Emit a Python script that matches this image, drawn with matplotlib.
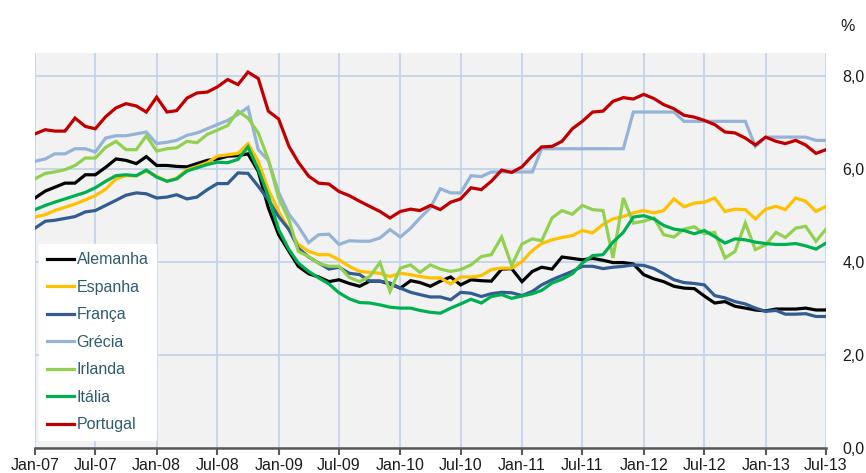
import numpy as np
import pandas as pd
import matplotlib
matplotlib.use("Agg")
import matplotlib.pyplot as plt

# monthly values, Jan-07 .. Jul-13 (%)
meses = pd.date_range("2007-01-01", periods=79, freq="MS")

alemanha = [5.38, 5.53, 5.61, 5.70, 5.70, 5.88, 5.88, 6.04, 6.22, 6.19,
            6.12, 6.27, 6.08, 6.08, 6.06, 6.05, 6.12, 6.19, 6.22, 6.28,
            6.29, 6.33, 5.95, 5.17, 4.59, 4.23, 3.91, 3.75, 3.68, 3.58,
            3.62, 3.54, 3.48, 3.59, 3.59, 3.53, 3.44, 3.60, 3.56, 3.48,
            3.59, 3.68, 3.51, 3.62, 3.60, 3.59, 3.85, 3.86, 3.58, 3.80,
            3.89, 3.85, 4.11, 4.08, 4.05, 4.08, 4.04, 3.99, 3.99, 3.96,
            3.73, 3.64, 3.58, 3.48, 3.44, 3.43, 3.27, 3.12, 3.15, 3.05,
            3.01, 2.97, 2.95, 2.99, 2.99, 2.99, 3.01, 2.97, 2.97]
espanha = [4.97, 5.02, 5.11, 5.18, 5.25, 5.34, 5.43, 5.57, 5.79, 5.86,
           5.86, 5.96, 5.85, 5.74, 5.81, 5.99, 6.06, 6.14, 6.28, 6.31,
           6.34, 6.55, 6.17, 5.56, 5.09, 4.70, 4.38, 4.23, 4.16, 4.16,
           4.05, 3.91, 3.80, 3.78, 3.76, 3.69, 3.76, 3.73, 3.69, 3.66,
           3.66, 3.53, 3.68, 3.68, 3.71, 3.84, 3.87, 3.87, 4.01, 4.25,
           4.40, 4.48, 4.53, 4.57, 4.68, 4.63, 4.81, 4.93, 4.98, 5.06,
           5.11, 5.06, 5.11, 5.36, 5.19, 5.27, 5.29, 5.38, 5.09, 5.14,
           5.13, 4.93, 5.14, 5.20, 5.13, 5.38, 5.31, 5.09, 5.20]
franca = [4.73, 4.88, 4.90, 4.94, 4.98, 5.08, 5.11, 5.22, 5.33, 5.44,
          5.49, 5.47, 5.38, 5.40, 5.45, 5.36, 5.40, 5.56, 5.69, 5.69,
          5.92, 5.91, 5.63, 5.34, 4.98, 4.70, 4.30, 4.11, 3.98, 3.85,
          3.89, 3.76, 3.73, 3.59, 3.59, 3.55, 3.44, 3.35, 3.30, 3.25,
          3.25, 3.19, 3.35, 3.33, 3.26, 3.32, 3.35, 3.34, 3.28, 3.37,
          3.51, 3.62, 3.71, 3.80, 3.91, 3.91, 3.86, 3.89, 3.91, 3.94,
          3.93, 3.86, 3.75, 3.62, 3.56, 3.54, 3.51, 3.28, 3.23, 3.15,
          3.10, 3.01, 2.94, 2.96, 2.88, 2.88, 2.89, 2.83, 2.83]
grecia = [6.17, 6.22, 6.33, 6.33, 6.44, 6.44, 6.37, 6.67, 6.72, 6.72,
          6.76, 6.80, 6.55, 6.58, 6.62, 6.73, 6.78, 6.87, 6.96, 7.05,
          7.18, 7.33, 6.42, 6.19, 5.50, 5.03, 4.77, 4.42, 4.59, 4.60,
          4.38, 4.46, 4.45, 4.45, 4.52, 4.70, 4.54, 4.73, 4.95, 5.17,
          5.58, 5.49, 5.49, 5.86, 5.84, 5.94, 5.94, 5.94, 5.94, 5.94,
          6.44, 6.44, 6.44, 6.44, 6.44, 6.44, 6.44, 6.44, 6.44, 7.23,
          7.23, 7.23, 7.23, 7.23, 7.03, 7.03, 7.03, 7.03, 7.03, 7.03,
          7.03, 6.49, 6.69, 6.69, 6.69, 6.69, 6.69, 6.62, 6.62]
irlanda = [5.79, 5.91, 5.94, 5.99, 6.08, 6.24, 6.24, 6.47, 6.60, 6.42,
           6.42, 6.72, 6.39, 6.44, 6.46, 6.60, 6.57, 6.75, 6.84, 6.94,
           7.25, 7.10, 6.78, 6.21, 5.38, 4.91, 4.23, 4.12, 3.97, 3.91,
           3.91, 3.67, 3.58, 3.69, 3.99, 3.37, 3.87, 3.94, 3.78, 3.94,
           3.85, 3.80, 3.84, 3.94, 4.12, 4.16, 4.54, 3.93, 4.39, 4.50,
           4.46, 4.95, 5.11, 5.03, 5.22, 5.13, 5.11, 4.09, 5.38, 4.84,
           4.88, 4.95, 4.59, 4.54, 4.71, 4.76, 4.61, 4.64, 4.09, 4.23,
           4.84, 4.27, 4.37, 4.64, 4.53, 4.73, 4.77, 4.45, 4.71]
italia = [5.13, 5.22, 5.29, 5.36, 5.43, 5.50, 5.60, 5.74, 5.86, 5.88,
          5.86, 5.98, 5.83, 5.74, 5.79, 5.96, 6.03, 6.10, 6.15, 6.14,
          6.21, 6.48, 5.99, 5.42, 4.70, 4.27, 3.98, 3.80, 3.66, 3.53,
          3.34, 3.21, 3.13, 3.12, 3.08, 3.03, 3.01, 3.01, 2.96, 2.92,
          2.90, 3.01, 3.10, 3.20, 3.12, 3.26, 3.30, 3.22, 3.27, 3.32,
          3.39, 3.55, 3.63, 3.75, 3.98, 4.14, 4.16, 4.43, 4.64, 4.97,
          5.00, 4.93, 4.79, 4.71, 4.68, 4.61, 4.68, 4.55, 4.41, 4.50,
          4.48, 4.43, 4.40, 4.38, 4.38, 4.40, 4.35, 4.28, 4.41]
portugal = [6.76, 6.85, 6.82, 6.82, 7.10, 6.92, 6.87, 7.13, 7.32, 7.41,
            7.36, 7.23, 7.55, 7.23, 7.26, 7.53, 7.64, 7.66, 7.77, 7.93,
            7.82, 8.09, 7.95, 7.25, 7.08, 6.49, 6.15, 5.85, 5.70, 5.68,
            5.52, 5.43, 5.31, 5.20, 5.09, 4.95, 5.09, 5.14, 5.11, 5.22,
            5.13, 5.29, 5.36, 5.60, 5.56, 5.74, 5.98, 5.93, 6.05, 6.29,
            6.48, 6.49, 6.60, 6.87, 7.03, 7.23, 7.25, 7.46, 7.54, 7.51,
            7.61, 7.52, 7.39, 7.30, 7.16, 7.12, 7.05, 6.96, 6.80, 6.78,
            6.67, 6.52, 6.69, 6.60, 6.55, 6.62, 6.52, 6.34, 6.42]

paises = ["Alemanha", "Espanha", "França", "Grécia", "Irlanda", "Itália", "Portugal"]
series = [alemanha, espanha, franca, grecia, irlanda, italia, portugal]
cores = ["#000000", "#FFC000", "#335C91", "#95B3D7", "#92D050", "#00B050", "#C00000"]

xtick_labels = ["Jan-07", "Jul-07", "Jan-08", "Jul-08", "Jan-09", "Jul-09", "Jan-10",
                "Jul-10", "Jan-11", "Jul-11", "Jan-12", "Jul-12", "Jan-13", "Jul-13"]
ytick_vals = [0, 2, 4, 6, 8]
ytick_labels = ["0,0", "2,0", "4,0", "6,0", "8,0"]

plt.rcParams["font.family"] = ["Liberation Sans", "DejaVu Sans"]

fig = plt.figure(figsize=(8.66, 4.73), dpi=100)
ax = fig.add_axes([0.0404, 0.0529, 0.9134, 0.835])
ax.set_facecolor("#F2F2F2")

for nome, vals, c in zip(paises, series, cores):
    ax.plot(meses, vals, color=c, lw=2.3, label=nome, solid_joinstyle="miter")

xticks = pd.date_range("2007-01-01", "2013-07-01", freq="6MS")
ax.set_xticks(xticks)
ax.set_xticklabels(xtick_labels, fontsize=11.5, color="#1a1a1a")
ax.set_xlim(meses[0], meses[-1])
ax.set_ylim(0, 8.5)
ax.set_yticks(ytick_vals)
ax.set_yticklabels(ytick_labels, fontsize=11.5, color="#1a1a1a")
ax.yaxis.tick_right()
ax.tick_params(axis="y", length=0, pad=12)
ax.tick_params(axis="x", length=5, width=1.5, color="#595959", pad=2)

ax.grid(True, color="#C6D6EA", lw=1.4)
ax.set_axisbelow(True)
for s in ["top", "right", "left"]:
    ax.spines[s].set_visible(False)
ax.spines["bottom"].set_color("#595959")
ax.spines["bottom"].set_linewidth(1.8)

fig.text(0.987, 0.945, "%", fontsize=11.5, ha="right", va="center", color="#1a1a1a")

leg = ax.legend(loc="lower left", bbox_to_anchor=(0.005, 0.02), borderaxespad=0,
                frameon=True, fancybox=False, edgecolor="white", facecolor="white",
                framealpha=1, fontsize=11.5, handlelength=1.7, handletextpad=0.15,
                labelspacing=0.78, borderpad=0.5)
for t in leg.get_texts():
    t.set_color("#2E5B6E")

fig.savefig("out.png", dpi=100)
